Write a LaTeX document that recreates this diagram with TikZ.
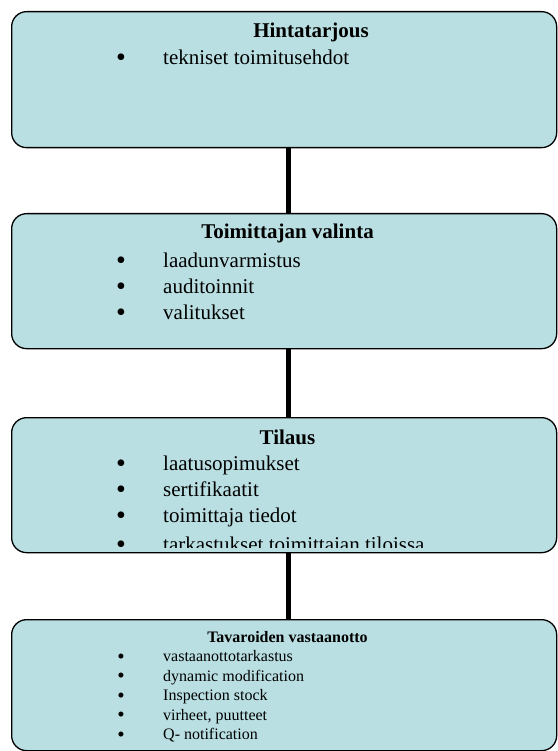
\documentclass[tikz,border=0pt]{standalone}
\usepackage{fontspec}
\setmainfont{Liberation Serif}
\definecolor{boxfill}{HTML}{B9DFE2}
\begin{document}
\begin{tikzpicture}[x=1pt,y=-1pt,
  stagebox/.style={draw=black, line width=1.3pt, fill=boxfill, rounded corners=15pt,
    anchor=north west, inner sep=0pt, minimum width=545pt},
  conn/.style={line width=5pt, draw=black},
  ttl/.style={anchor=base, inner sep=0pt, font=\fontsize{21}{25}\selectfont\bfseries},
  bul/.style={anchor=base, inner sep=0pt, font=\fontsize{28}{30}\selectfont},
  itm/.style={anchor=base west, inner sep=0pt, font=\fontsize{21}{25}\selectfont},
  ttls/.style={anchor=base, inner sep=0pt, font=\fontsize{16}{19}\selectfont\bfseries},
  buls/.style={anchor=base, inner sep=0pt, font=\fontsize{21}{23}\selectfont},
  itms/.style={anchor=base west, inner sep=0pt, font=\fontsize{16}{19}\selectfont}]
\useasboundingbox (0,0) rectangle (557,751);

% boxes
\node[stagebox, minimum height=136pt] (b1) at (11,11) {};
\node[stagebox, minimum height=135pt] (b2) at (11,213) {};
\node[stagebox, minimum height=135pt] (b3) at (11,417) {};
\node[stagebox, minimum height=131pt] (b4) at (11,619) {};

% connectors
\draw[conn] ([xshift=4pt]b1.south) -- ([xshift=4pt]b2.north);
\draw[conn] ([xshift=4pt]b2.south) -- ([xshift=4pt]b3.north);
\draw[conn] ([xshift=4pt]b3.south) -- ([xshift=4pt]b4.north);

% box 1
\node[ttl] (t1) at (311,38) {Hintatarjous};
\node[bul] (p11) at (121,67) {•};
\node[itm] (i11) at (163,65) {tekniset toimitusehdot};

% box 2
\node[ttl] (t2) at (287.5,238) {Toimittajan valinta};
\node[bul] (p21) at (121,269) {•};
\node[itm] (i21) at (163,267) {laadunvarmistus};
\node[bul] (p22) at (121,295) {•};
\node[itm] (i22) at (163,293) {auditoinnit};
\node[bul] (p23) at (121,321) {•};
\node[itm] (i23) at (163,319) {valitukset};

% box 3
\node[ttl] (t3) at (287.5,444) {Tilaus};
\node[bul] (p31) at (121,472) {•};
\node[itm] (i31) at (163,470) {laatusopimukset};
\node[bul] (p32) at (121,498) {•};
\node[itm] (i32) at (163,496) {sertifikaatit};
\node[bul] (p33) at (121,524) {•};
\node[itm] (i33) at (163,522) {toimittaja tiedot};
\begin{scope}
\clip (11,400) rectangle (556,547);
\node[bul] (p34) at (121,553.5) {•};
\node[itm] (i34) at (163,551.5) {tarkastukset toimittajan tiloissa};
\end{scope}

% box 4
\node[ttls] (t4) at (287.5,642) {Tavaroiden vastaanotto};
\node[buls] (p41) at (121,663) {•};
\node[itms] (i41) at (163,661.5) {vastaanottotarkastus};
\node[buls] (p42) at (121,682.5) {•};
\node[itms] (i42) at (163,681) {dynamic modification};
\node[buls] (p43) at (121,702) {•};
\node[itms] (i43) at (163,700.5) {Inspection stock};
\node[buls] (p44) at (121,721.5) {•};
\node[itms] (i44) at (163,720) {virheet, puutteet};
\node[buls] (p45) at (121,741) {•};
\node[itms] (i45) at (163,739.5) {Q- notification};
\end{tikzpicture}
\end{document}
